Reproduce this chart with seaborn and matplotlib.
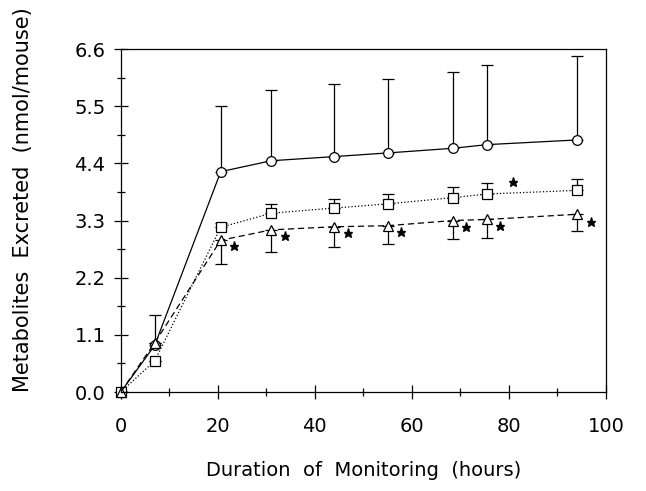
import matplotlib
matplotlib.use("Agg")
import matplotlib.pyplot as plt
import seaborn as sns
import pandas as pd
import numpy as np

# hours
hours = [0, 7, 20.6, 31, 44, 55, 68.5, 75.5, 94]

# circles (solid line), error bars upward
circ = [0, 0.90, 4.24, 4.45, 4.53, 4.60, 4.69, 4.76, 4.85]
circ_err = [0, 0.58, 1.27, 1.37, 1.39, 1.42, 1.47, 1.53, 1.61]

# squares (dotted line), error bars upward
sq = [0, 0.60, 3.17, 3.44, 3.54, 3.62, 3.74, 3.81, 3.88]
sq_err = [0, 0, 0.09, 0.18, 0.18, 0.19, 0.20, 0.21, 0.22]

# triangles (dashed line), error bars downward
tri = [0, 0.95, 2.92, 3.12, 3.18, 3.20, 3.30, 3.32, 3.42]
tri_err = [0, 0, 0.46, 0.42, 0.39, 0.35, 0.36, 0.35, 0.32]

# significance stars
star_x = [23.4, 33.8, 46.8, 57.8, 71.2, 78.2, 97.0, 80.8]
star_y = [2.80, 3.00, 3.06, 3.08, 3.18, 3.20, 3.28, 4.04]

yticks = [0.0, 1.1, 2.2, 3.3, 4.4, 5.5, 6.6]
xticks = [0, 20, 40, 60, 80, 100]

sns.set_style("ticks")
plt.rcParams['font.family'] = ['DejaVu Sans']
plt.rcParams['text.color'] = 'black'
plt.rcParams['axes.labelcolor'] = 'black'
plt.rcParams['xtick.color'] = 'black'
plt.rcParams['ytick.color'] = 'black'
plt.rcParams['axes.edgecolor'] = 'black'

df = pd.DataFrame({"Hora": hours, "circ": circ, "sq": sq, "tri": tri})

fig = plt.figure(figsize=(6.46, 4.91), dpi=100)
ax = fig.add_axes([0.187, 0.2016, 0.751, 0.6986])

zero = np.zeros(len(hours))
ax.errorbar(hours, circ, yerr=[zero, circ_err], fmt='none', ecolor='black',
            elinewidth=0.9, capsize=4, capthick=0.9)
ax.errorbar(hours, sq, yerr=[zero, sq_err], fmt='none', ecolor='black',
            elinewidth=0.9, capsize=4, capthick=0.9)
ax.errorbar(hours, tri, yerr=[tri_err, zero], fmt='none', ecolor='black',
            elinewidth=0.9, capsize=4, capthick=0.9)

sns.lineplot(x="Hora", y="circ", data=df, ax=ax, color='black', linewidth=0.9,
             linestyle='-', marker='o', markersize=7, markerfacecolor='white',
             markeredgecolor='black', markeredgewidth=0.9, clip_on=False)
sns.lineplot(x="Hora", y="sq", data=df, ax=ax, color='black', linewidth=0.9,
             linestyle=':', marker='s', markersize=7, markerfacecolor='white',
             markeredgecolor='black', markeredgewidth=0.9, clip_on=False)
sns.lineplot(x="Hora", y="tri", data=df, ax=ax, color='black', linewidth=0.9,
             linestyle=(0, (5, 3)), marker='^', markersize=7, markerfacecolor='white',
             markeredgecolor='black', markeredgewidth=0.9, clip_on=False)

ax.plot(star_x, star_y, linestyle='none', marker='*', markersize=6.5, color='black')

ax.set_xlim(0, 100)
ax.set_ylim(0, 6.6)
ax.set_xticks(xticks)
ax.set_xticks([10, 30, 50, 70, 90], minor=True)
ax.set_yticks(yticks)
ax.set_yticklabels([f"{v:.1f}" for v in yticks])
ax.set_yticks([0.55, 1.65, 2.75, 3.85, 4.95, 6.05], minor=True)
ax.tick_params(which='major', direction='inout', length=10, width=0.9, labelsize=14)
ax.tick_params(axis='x', which='major', pad=13)
ax.tick_params(axis='y', which='major', pad=6)
ax.tick_params(which='minor', direction='inout', length=6, width=0.9)
for s in ax.spines.values():
    s.set_linewidth(0.9)
    s.set_visible(True)

ax.set_xlabel("Duration  of  Monitoring  (hours)", fontsize=14, labelpad=18)
ax.set_ylabel("Metabolites  Excreted  (nmol/mouse)", fontsize=15)
ax.yaxis.set_label_coords(-0.18, 0.56)
ax.grid(False)

fig.savefig("out.png", dpi=100)
